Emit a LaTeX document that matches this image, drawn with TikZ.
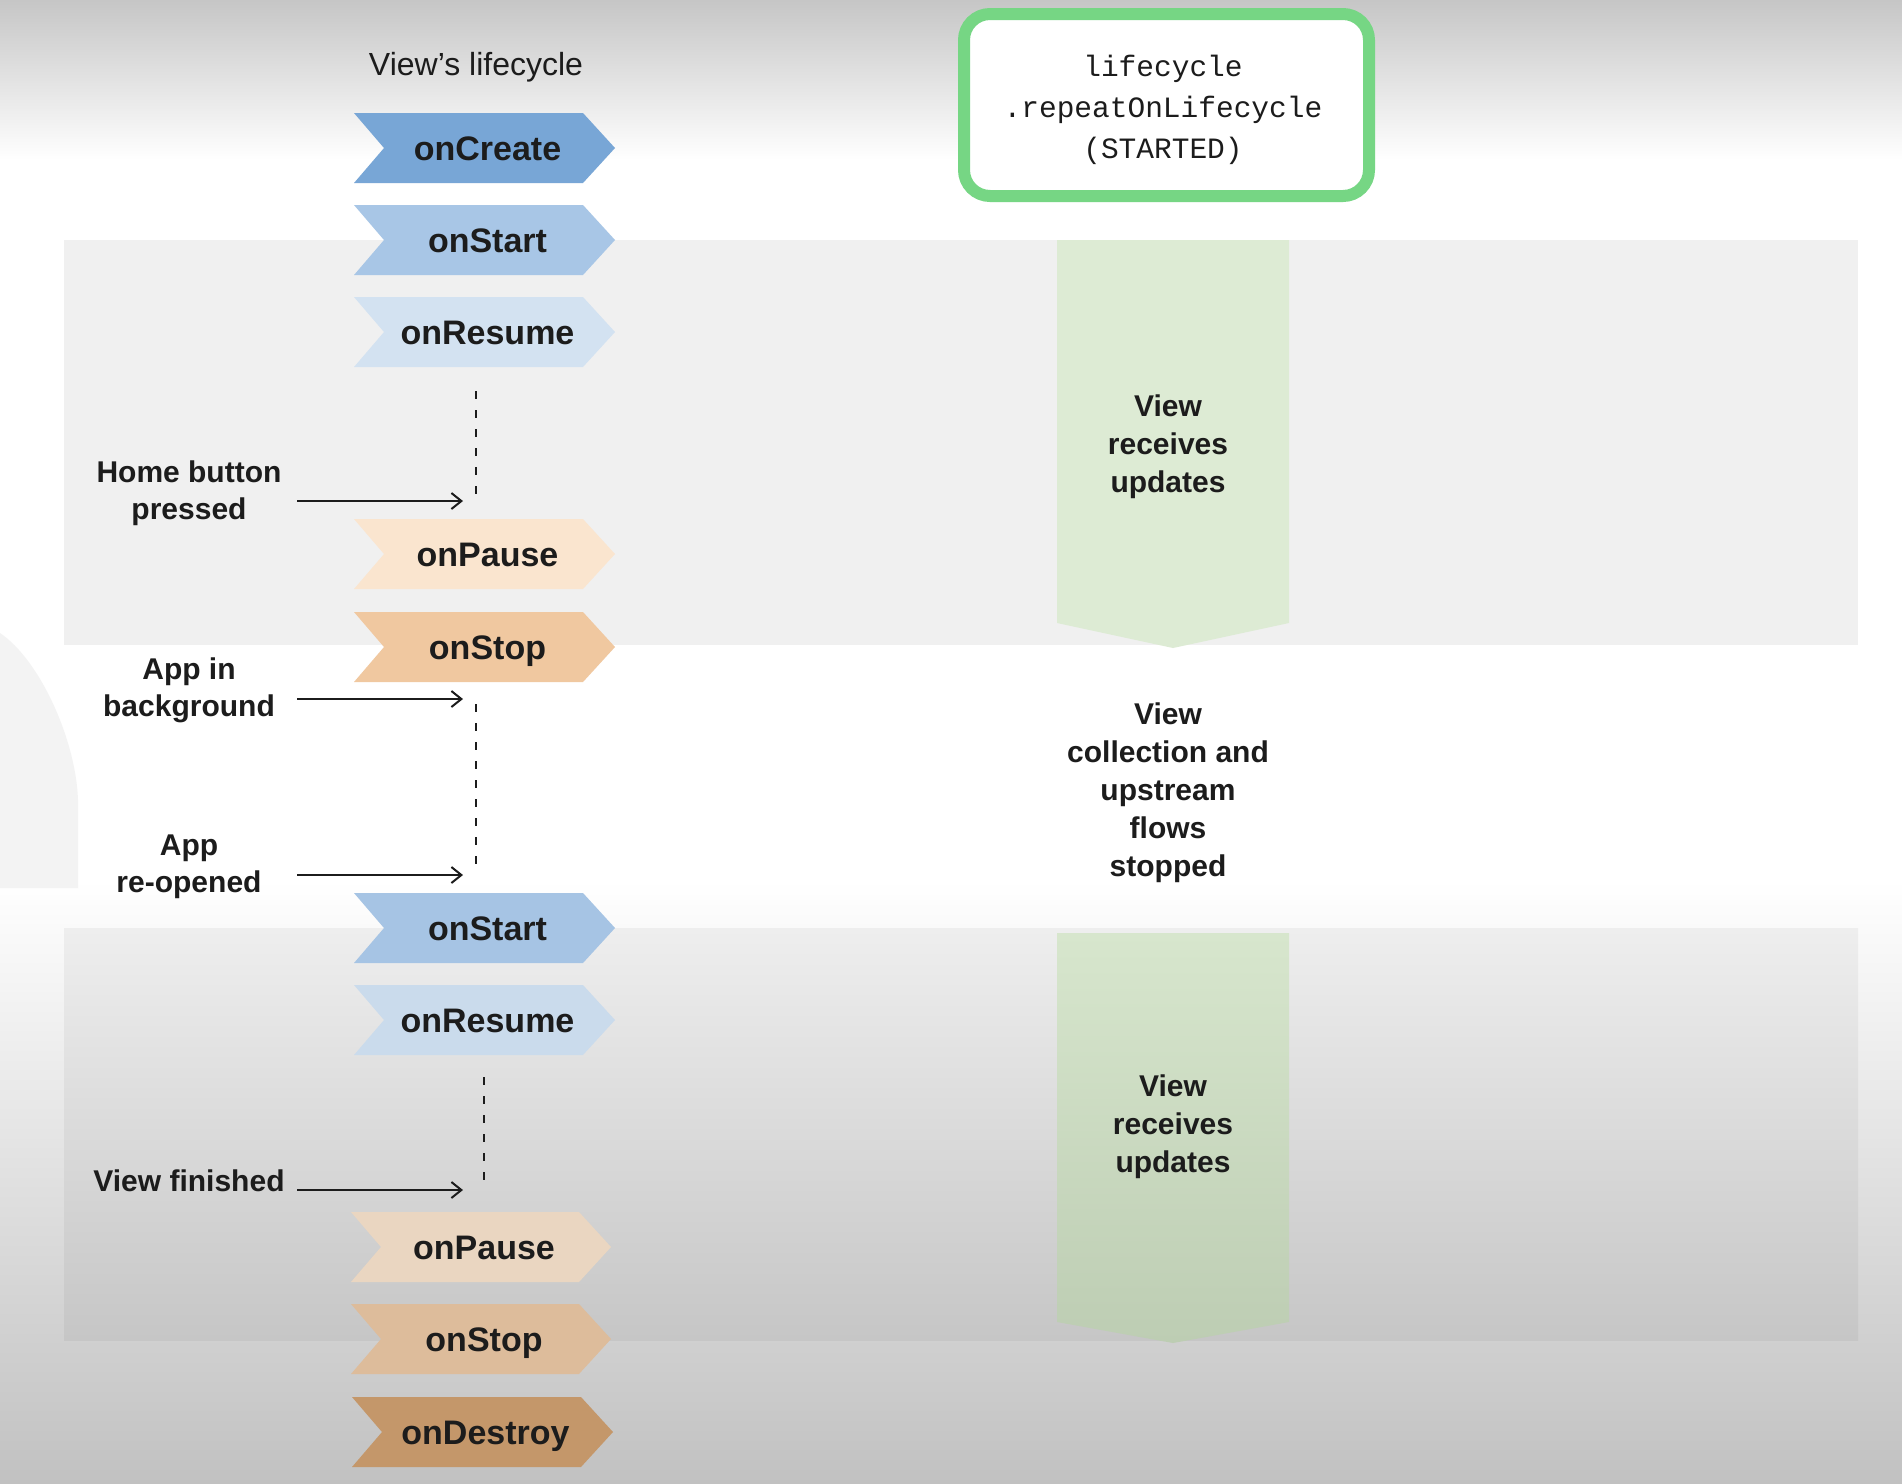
\documentclass[tikz,border=0pt]{standalone}
\usepackage{fontspec}
\setmainfont{Liberation Sans}
\setmonofont{Liberation Mono}
\usetikzlibrary{arrows.meta}

\definecolor{txt}{RGB}{28,28,28}
\definecolor{topgrey}{RGB}{198,198,198}
\definecolor{botgrey}{RGB}{193,193,193}
\definecolor{bandA}{RGB}{240,240,240}
\definecolor{bandBtop}{RGB}{238,238,238}
\definecolor{bandBbot}{RGB}{198,198,198}
\definecolor{sidegrey}{RGB}{243,243,243}
\definecolor{boxgreen}{RGB}{118,214,132}
\definecolor{barA}{RGB}{221,235,212}
\definecolor{barBtop}{RGB}{215,230,205}
\definecolor{barBbot}{RGB}{189,205,179}
\definecolor{createC}{RGB}{120,166,214}
\definecolor{startC}{RGB}{168,198,230}
\definecolor{resumeC}{RGB}{211,226,241}
\definecolor{pauseC}{RGB}{250,229,207}
\definecolor{stopC}{RGB}{240,200,160}
\definecolor{startD}{RGB}{166,196,228}
\definecolor{resumeD}{RGB}{202,219,236}
\definecolor{pauseD}{RGB}{234,214,193}
\definecolor{stopD}{RGB}{221,188,155}
\definecolor{destroyC}{RGB}{196,151,106}

% one lifecycle step: name, left x, right x, centre y, colour, text
\newcommand\chevronbox[6]{%
  \fill[#5] (#2,#4-35) -- (#3-32,#4-35) -- (#3,#4) -- (#3-32,#4+35)
            -- (#2,#4+35) -- (#2+30,#4) -- cycle;
  \node[chevtext] (#1) at ({(#2+#3)/2+3},#4) {#6};
}

\begin{document}
\begin{tikzpicture}[x=0.5pt,y=-0.5pt,
  chevtext/.style={font=\fontsize{17}{20}\selectfont\bfseries, text=txt,
                   inner sep=0pt, text height=12.2pt, text depth=0pt},
  evlabel/.style={font=\fontsize{15}{18.5}\selectfont\bfseries, text=txt,
                  align=center, inner sep=0pt},
  barnote/.style={font=\fontsize{15}{19}\selectfont\bfseries, text=txt,
                  align=center, inner sep=0pt},
  codetext/.style={font=\fontsize{14.75}{20.5}\selectfont\ttfamily, text=txt,
                   align=center, inner sep=0pt},
  dotline/.style={line width=1.25pt, dash pattern=on 4pt off 5.5pt, draw=txt},
  event/.style={line width=1pt, draw=txt, -{Straight Barb[length=5pt,width=8pt]}},
]
\useasboundingbox (0,0) rectangle (1902,1484);

% background
\fill[white] (0,0) rectangle (1902,1484);
\shade[top color=topgrey, bottom color=white] (0,0) rectangle (1902,160);
\shade[top color=white, bottom color=botgrey] (0,880) rectangle (1902,1484);
\fill[sidegrey] (0,633) .. controls (40,660) and (76,740) .. (78,800)
                -- (78,888) -- (0,888) -- cycle;

% phase bands
\fill[bandA] (64,240) rectangle (1858,645);
\shade[top color=bandBtop, bottom color=bandBbot] (64,928) rectangle (1858,1340);

% collection bars
\fill[barA] (1057,240) -- (1289,240) -- (1289,623) -- (1173,648)
            -- (1057,623) -- cycle;
\shade[top color=barBtop, bottom color=barBbot] (1057,933) -- (1289,933)
            -- (1289,1322) -- (1173,1343) -- (1057,1322) -- cycle;

% header
\node[font=\fontsize{16}{19}\selectfont, text=txt, inner sep=0pt] (title)
  at (476,67) {View’s lifecycle};
\draw[boxgreen, line width=6pt, fill=white, rounded corners=13pt]
  (964,14) rectangle (1369,196);
\node[codetext] (api) at (1163,110) {lifecycle\\.repeatOnLifecycle\\(STARTED)};

% lifecycle steps
\chevronbox{create}{354}{615}{148}{createC}{onCreate}
\chevronbox{startA}{354}{615}{240}{startC}{onStart}
\chevronbox{resumeA}{354}{615}{332}{resumeC}{onResume}
\chevronbox{pauseA}{354}{615}{554}{pauseC}{onPause}
\chevronbox{stopA}{354}{615}{647}{stopC}{onStop}
\chevronbox{startB}{354}{615}{928}{startD}{onStart}
\chevronbox{resumeB}{354}{615}{1020}{resumeD}{onResume}
\chevronbox{pauseB}{351}{611}{1247}{pauseD}{onPause}
\chevronbox{stopB}{351}{611}{1339}{stopD}{onStop}
\chevronbox{destroy}{352}{613}{1432}{destroyC}{onDestroy}

% waiting periods
\coordinate (d1a) at (476,391);  \coordinate (d1b) at (476,501);
\coordinate (d2a) at (476,704);  \coordinate (d2b) at (476,873);
\coordinate (d3a) at (484,1077); \coordinate (d3b) at (484,1189);
\draw[dotline] (d1a) -- (d1b);
\draw[dotline] (d2a) -- (d2b);
\draw[dotline] (d3a) -- (d3b);

% events
\node[evlabel] (home) at (189,493) {Home button\\pressed};
\node[evlabel] (bg)   at (189,690) {App in\\background};
\node[evlabel] (reop) at (189,867) {App\\re-opened};
\node[evlabel] (fin)  at (189,1181) {View finished};
\coordinate (e1s) at (297,501);  \coordinate (e1e) at (463,501);
\coordinate (e2s) at (297,699);  \coordinate (e2e) at (463,699);
\coordinate (e3s) at (297,875);  \coordinate (e3e) at (463,875);
\coordinate (e4s) at (297,1190); \coordinate (e4e) at (463,1190);
\draw[event] (e1s) -- (e1e);
\draw[event] (e2s) -- (e2e);
\draw[event] (e3s) -- (e3e);
\draw[event] (e4s) -- (e4e);

% collection state
\node[barnote] (upd1) at (1168,447) {View\\receives\\updates};
\node[barnote] (stopped) at (1168,793)
  {View\\collection and\\upstream\\flows\\stopped};
\node[barnote] (upd2) at (1173,1127) {View\\receives\\updates};
\end{tikzpicture}
\end{document}
